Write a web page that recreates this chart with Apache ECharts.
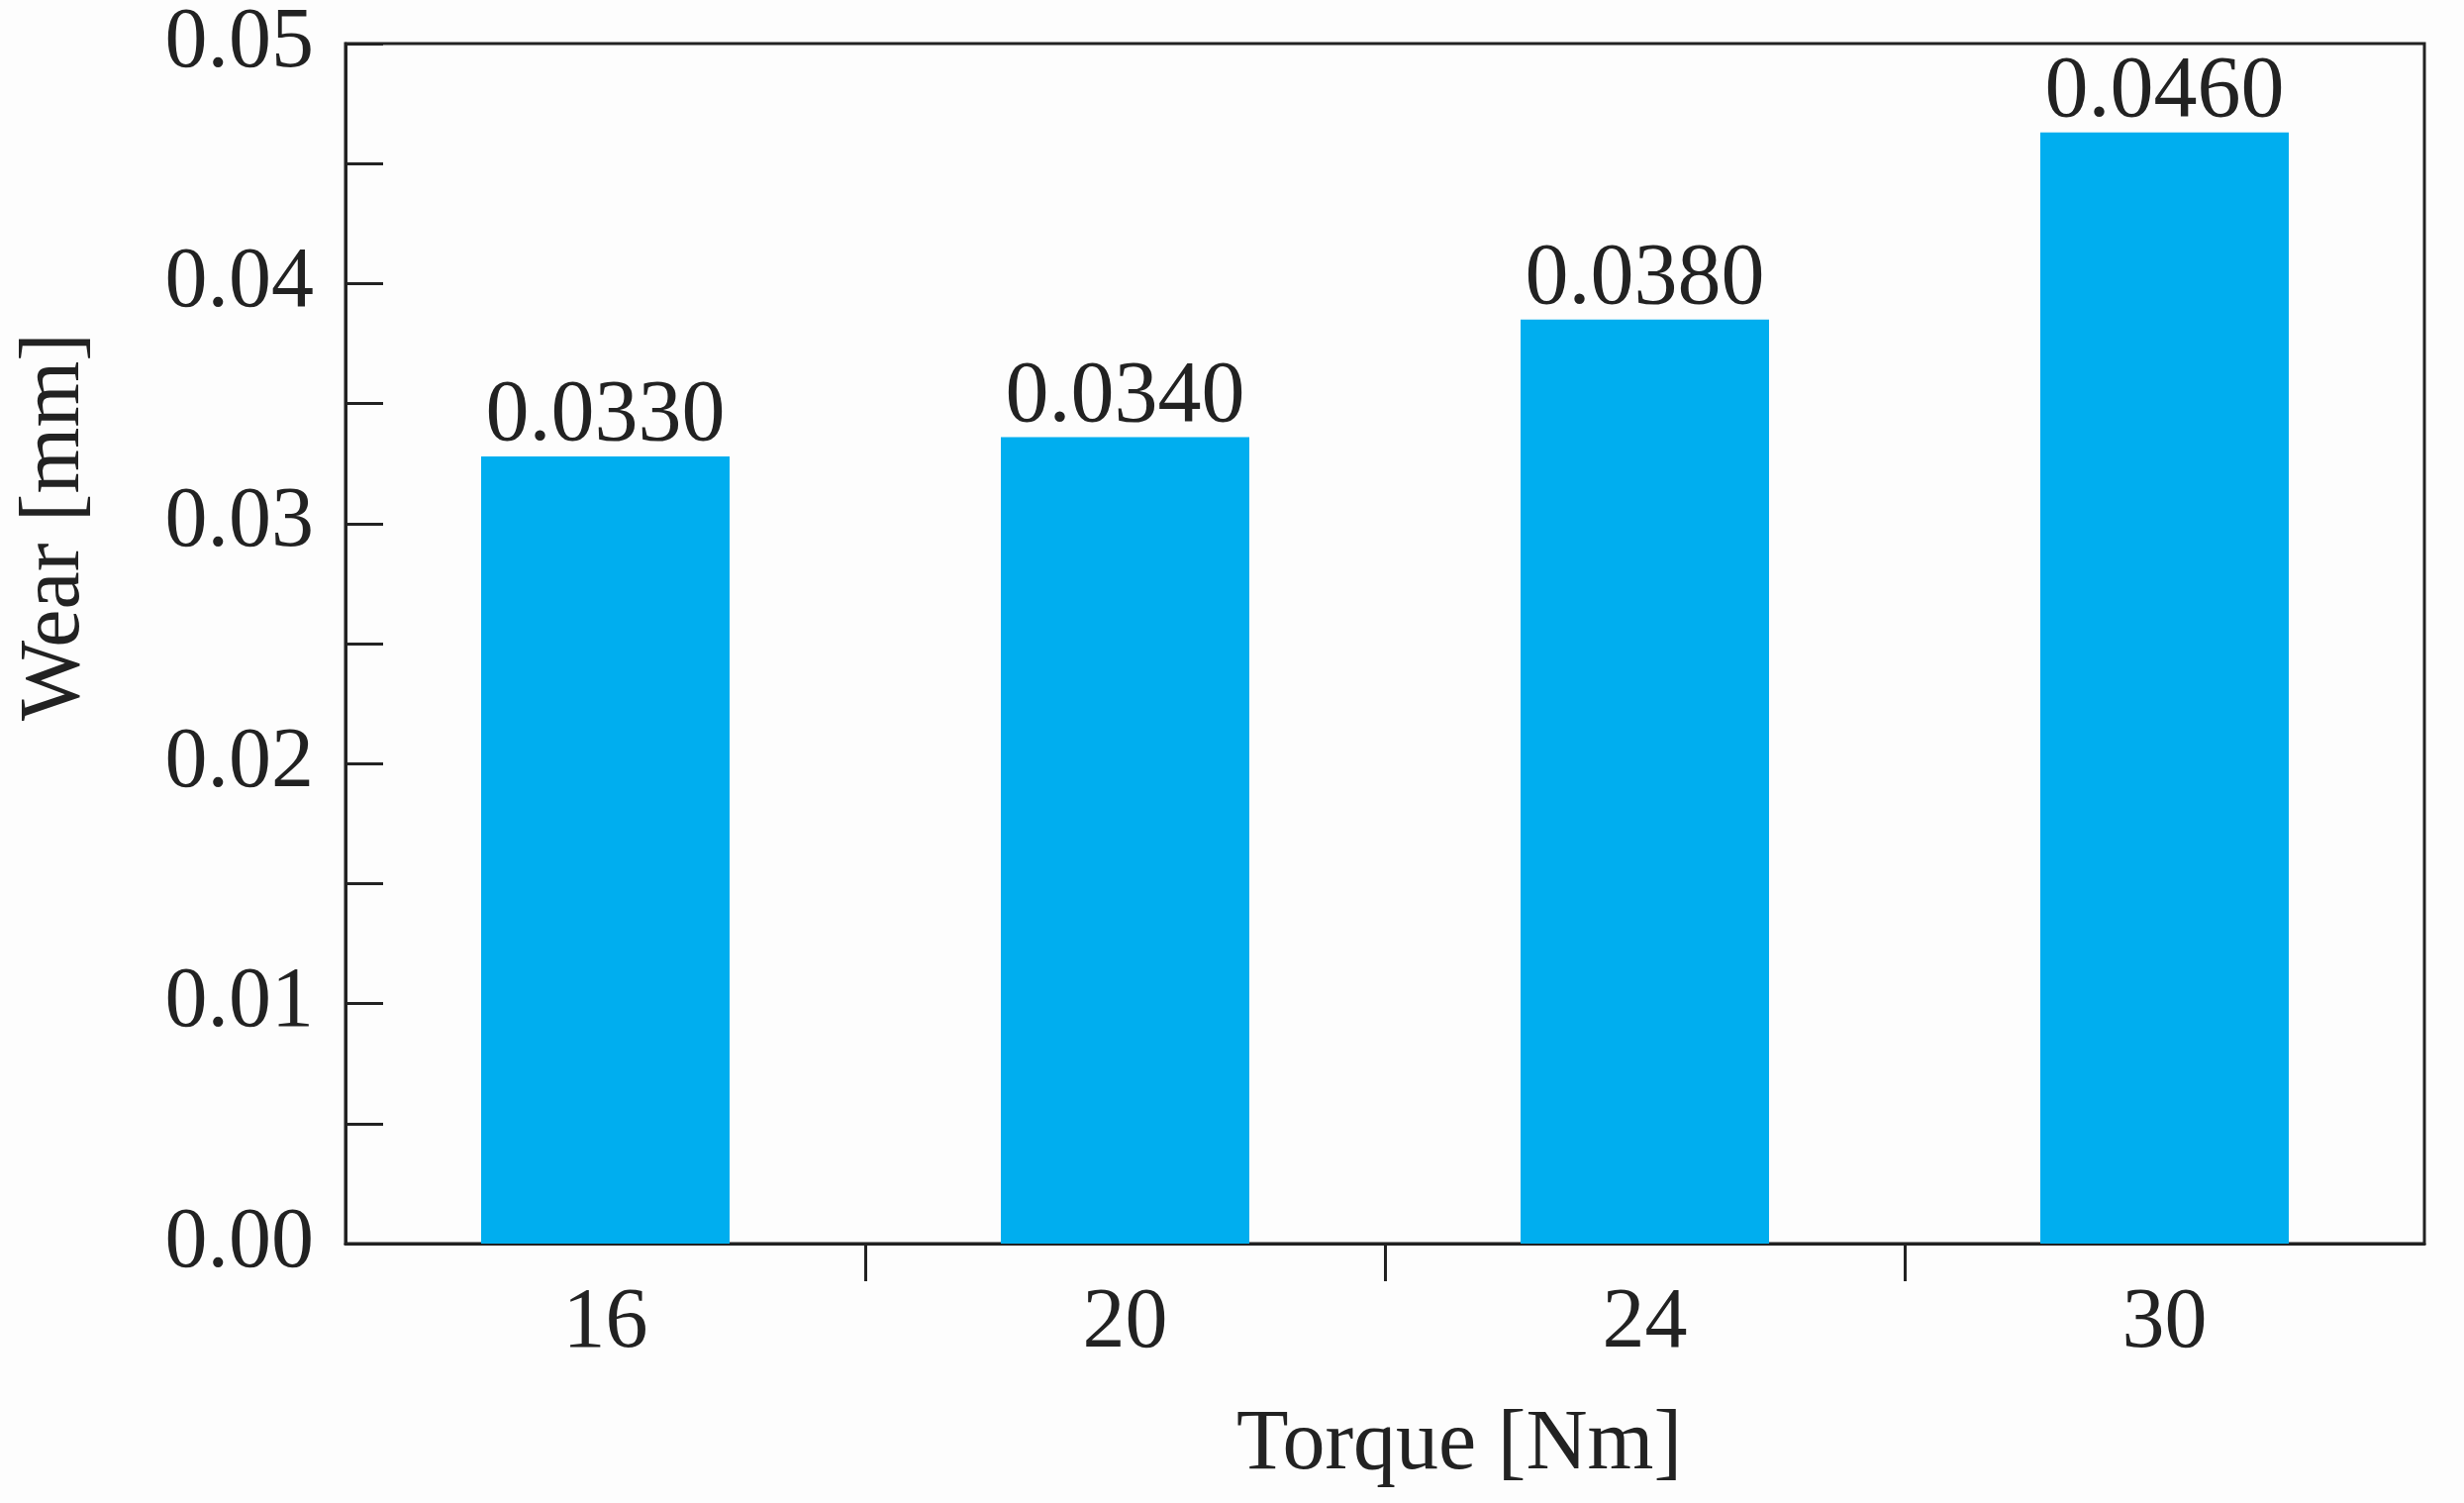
<!DOCTYPE html>
<html lang="en">
<head>
    <meta charset="UTF-8">
    <script src="https://cdn.jsdelivr.net/npm/echarts@6/dist/echarts.min.js"></script>
    <title>Wear vs Torque</title>
</head>
<body>
<style>
    html, body, #main {
        width: 100%;
        height: 100%;
        margin: 0;
        background: #fdfdfd;
    }
</style>
<div id='main'></div>
<script>
    // data
    var torque = ['16', '20', '24', '30'];
    var wear = [0.0328, 0.0336, 0.0385, 0.0463];          // bar heights
    var wearLabels = ['0.0330', '0.0340', '0.0380', '0.0460']; // printed values
    var yTickLabels = ['0.00', '0.01', '0.02', '0.03', '0.04', '0.05'];

    var txt = '#222';
    var fnt = 'Liberation Serif';

    // bars sit at 0,1,2,3 on a value x axis, so the separator ticks can go between them
    var barData = [];
    for (var i = 0; i < wear.length; i++) {
        barData.push([i, wear[i]]);
    }
    var sepTicks = [];
    var labelPos = [];
    for (var i = 0; i < torque.length; i++) {
        labelPos.push(i);
        if (i > 0) sepTicks.push(i - 0.5);
    }

    var myChart = echarts.init(document.getElementById('main'));

    var option = {
        backgroundColor: '#fdfdfd',
        animation: false,
        grid: {
            left: 349,
            right: 40,
            top: 44,
            bottom: 262,
            show: true,
            borderColor: txt,
            borderWidth: 3
        },
        xAxis: {
            type: 'value',
            min: -0.5,
            max: 3.5,
            name: 'Torque [Nm]',
            nameLocation: 'middle',
            nameGap: 161,
            nameTextStyle: {
                fontFamily: fnt, fontSize: 86, color: txt,
                padding: [0, 0, 0, 150]
            },
            splitLine: {show: false},
            axisLine: {lineStyle: {color: txt, width: 3}},
            axisTick: {
                show: true,
                customValues: sepTicks,
                length: 38,
                lineStyle: {color: txt, width: 3}
            },
            axisLabel: {
                customValues: labelPos,
                margin: 38,
                fontFamily: fnt, fontSize: 86, color: txt,
                formatter: function (v) {
                    return torque[Math.round(v)];
                }
            }
        },
        yAxis: {
            type: 'value',
            min: 0,
            max: 0.05,
            interval: 0.005,
            name: 'Wear [mm]',
            nameLocation: 'middle',
            nameGap: 250,
            nameTextStyle: {
                fontFamily: fnt, fontSize: 86, color: txt,
                padding: [0, 0, 0, 236]
            },
            splitLine: {show: false},
            axisLine: {show: true, onZero: false, lineStyle: {color: txt, width: 3}},
            axisTick: {
                show: true,
                inside: true,
                length: 38,
                lineStyle: {color: txt, width: 3}
            },
            axisLabel: {
                margin: 32,
                fontFamily: fnt, fontSize: 86, color: txt,
                formatter: function (v) {
                    var k = v * 100;
                    if (Math.abs(k - Math.round(k)) > 1e-6) return '';
                    return yTickLabels[Math.round(k)];
                }
            }
        },
        series: [
            {
                type: 'bar',
                data: barData,
                barWidth: 251,
                itemStyle: {color: '#00aeef'},
                label: {
                    show: true,
                    position: 'top',
                    distance: -4,
                    fontFamily: fnt, fontSize: 88, color: txt,
                    formatter: function (p) {
                        return wearLabels[p.dataIndex];
                    }
                }
            }
        ]
    };

    myChart.setOption(option);
    window.onresize = myChart.resize;
</script>
</body>
</html>
